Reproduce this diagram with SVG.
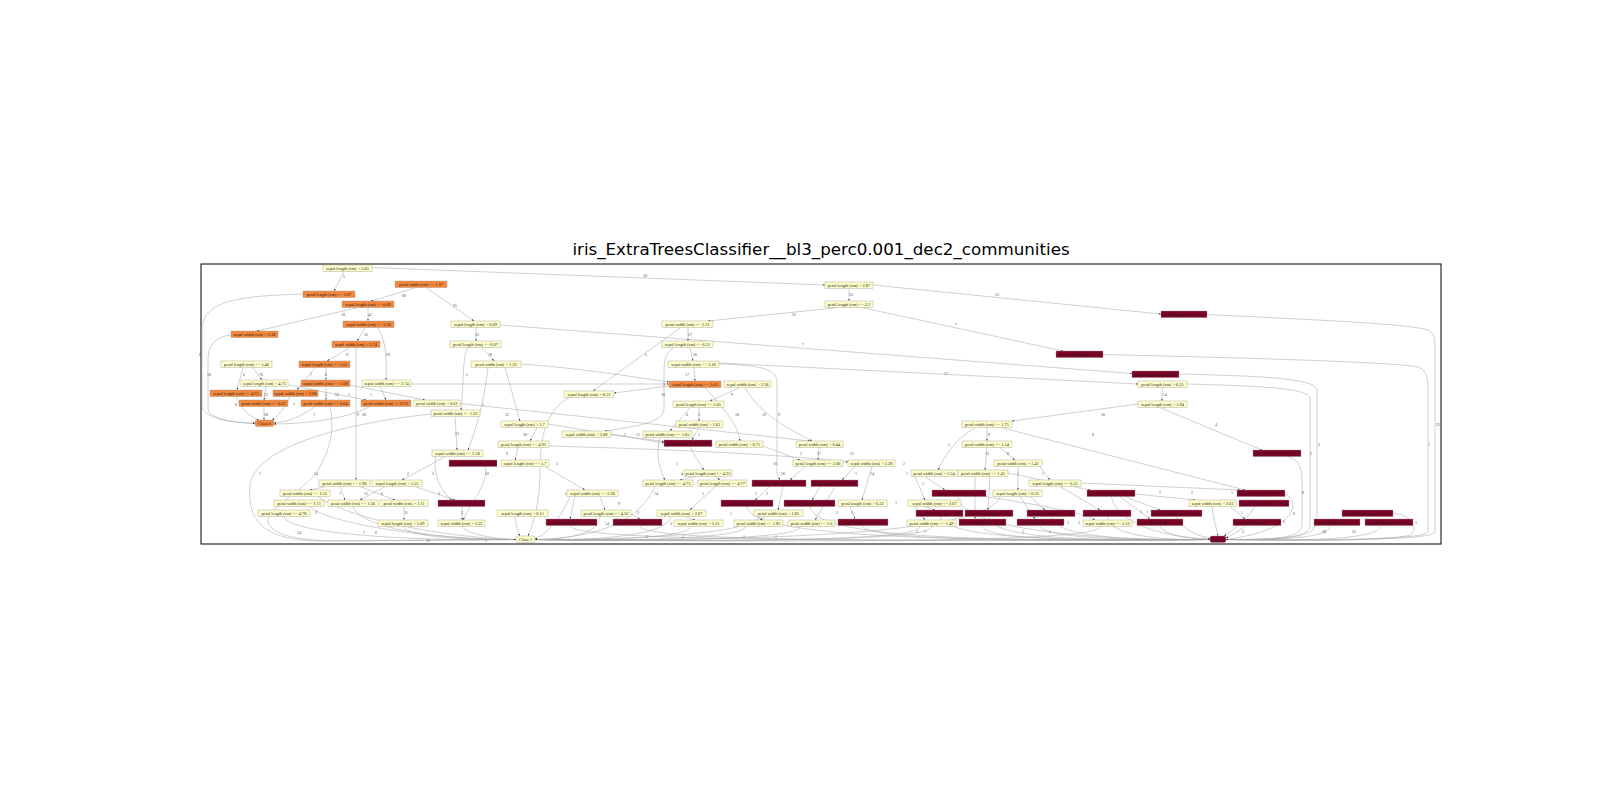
<svg xmlns="http://www.w3.org/2000/svg" width="1600" height="800" viewBox="0 0 1600 800">
<defs>
<marker id="a" viewBox="0 0 6 4" refX="6" refY="2" markerWidth="2.4" markerHeight="1.6" markerUnits="userSpaceOnUse" orient="auto"><path d="M0,0L6,2L0,4z" fill="#222"/></marker>
<style>
.e path{fill:none;stroke:#a8a8a8;stroke-width:0.55;marker-end:url(#a)}
.l text{font-family:"Liberation Serif",serif;font-size:3.8px;fill:#444;text-anchor:middle}
.y rect{fill:#ffffcc;stroke:#999;stroke-width:0.4}
.o rect{fill:#f5883b;stroke:#999;stroke-width:0.4}
.m rect{fill:#800026;stroke:#999;stroke-width:0.4}
g.y text,g.o text,g.m text{font-family:"Liberation Serif",serif;font-size:4.4px;fill:#222;text-anchor:middle}
</style>
</defs>
<rect width="1600" height="800" fill="#fff"/>
<text x="821" y="255" font-family="DejaVu Sans, sans-serif" font-size="16.7" text-anchor="middle" fill="#000">iris_ExtraTreesClassifier__bl3_perc0.001_dec2_communities</text>
<rect x="201" y="264" width="1240" height="280" fill="none" stroke="#000" stroke-width="1"/>
<g class="e" id="edges">
<path d="M344,271.6 L334,291"/>
<path d="M372,267.5 L825,285"/>
<path d="M415,288 L371,301"/>
<path d="M427,288 L474,321"/>
<path d="M303,294 C240,296 202,300 202,330 L202,405 C202,418 230,423 255,423"/>
<path d="M356,308 L257,331"/>
<path d="M368,308 L368,321"/>
<path d="M365,328 L357,341"/>
<path d="M378,328 C386,340 387,360 386,380"/>
<path d="M231,335 C214,337 208,346 208,360 L208,408 C208,419 235,423 255,423.5"/>
<path d="M350,347.6 L327,361"/>
<path d="M356,347.6 L356,480"/>
<path d="M476,328 L476,341"/>
<path d="M500,325 L1132,373.5"/>
<path d="M482,347.6 L494,361"/>
<path d="M468,347.6 C462,356 464,385 461,410"/>
<path d="M849,288.6 L849,301"/>
<path d="M873,285 L1161,314"/>
<path d="M838,307.6 L708,321"/>
<path d="M862,307.6 L1063,351"/>
<path d="M1207,314.5 C1320,320 1410,324 1428,330 C1435,333 1435,340 1435,350 L1435,532 C1435,540 1330,541 1226,539.5"/>
<path d="M1103,354.5 C1250,358 1395,362 1418,367 C1427,370 1428,378 1428,390 L1428,532 C1428,539 1330,540.5 1226,539.5"/>
<path d="M688,328 L688,341"/>
<path d="M680,328 L593,391"/>
<path d="M690,347.6 L693,361"/>
<path d="M674,347.6 C665,352 664,362 664,372 L664,408 C664,422 640,426 605,431"/>
<path d="M694,367.6 L695,381"/>
<path d="M719,364 C760,365 777,369 777,382 L777,472 C777,476 779,478 780,480"/>
<path d="M719,363 L1138,384"/>
<path d="M1179,374 C1260,376 1315,378 1317,390 L1317,520 C1317,535 1300,540 1226,539.5"/>
<path d="M1187,384 C1260,386 1308,388 1310,398 L1310,525 C1310,536 1290,540 1226,539.5"/>
<path d="M1162,387.6 L1162,401"/>
<path d="M1160,407.6 L1262,450"/>
<path d="M1138,404 L1012,421"/>
<path d="M1001,427.6 L1245,490"/>
<path d="M987,427.6 L987,441"/>
<path d="M975,427.6 C955,440 945,455 938,470"/>
<path d="M987,447.6 L985,470"/>
<path d="M1000,447.6 L1015,460"/>
<path d="M1288,456.6 C1300,460 1302,470 1302,480 L1302,525 C1302,537 1280,540 1226,539.5"/>
<path d="M243,367.6 L237,390"/>
<path d="M253,367.6 L262,380"/>
<path d="M315,367.6 L297,390"/>
<path d="M326,367.6 L326,380"/>
<path d="M266,386.6 L264,400"/>
<path d="M288,385 L366,400"/>
<path d="M326,386.6 L326,400"/>
<path d="M350,385 L425,400"/>
<path d="M380,386.6 L386,400"/>
<path d="M411,384 L669,384"/>
<path d="M236,396.6 C240,408 250,417 259,420"/>
<path d="M264,406.6 L264,420"/>
<path d="M290,396.6 C285,408 278,416 272,420"/>
<path d="M315,406.6 C300,418 285,422 274,423"/>
<path d="M370,406.6 C345,420 300,424 274,424"/>
<path d="M488,367.6 C485,395 478,425 468,450"/>
<path d="M505,367.6 L520,421"/>
<path d="M521,364 C580,368 640,378 669,382"/>
<path d="M455,416.6 L457,450"/>
<path d="M431,414 C330,425 255,450 250,485 C247,520 262,540 320,541 L516,539.5"/>
<path d="M330,406.6 C335,430 330,450 318,470 C300,495 270,505 268,520 C268,535 300,541 340,541 L516,539.5"/>
<path d="M460,403.5 L810,441"/>
<path d="M745,387.6 C755,405 770,420 812,441"/>
<path d="M537,427.6 L530,441"/>
<path d="M548,424 L664,443"/>
<path d="M611,434.5 L664,441.5"/>
<path d="M518,447.6 L515,460"/>
<path d="M549,446 C620,448 760,452 848,462"/>
<path d="M545,466.6 L585,490"/>
<path d="M445,456.6 L402,480"/>
<path d="M436,456.6 C432,470 440,492 452,500"/>
<path d="M485,466.6 C490,480 470,505 463,520"/>
<path d="M340,486.6 L345,500"/>
<path d="M360,486.6 L395,500"/>
<path d="M325,486.6 L310,490"/>
<path d="M385,486.6 L360,500"/>
<path d="M415,486.6 L455,500"/>
<path d="M404,506.6 L404,520"/>
<path d="M462,506.6 L462,520"/>
<path d="M284,516.6 C290,535 420,541 516,539.5"/>
<path d="M310,506.6 C330,525 440,540 516,539.5"/>
<path d="M353,506.6 C360,530 450,540 516,539.5"/>
<path d="M318,496.6 C350,520 450,538 516,539.5"/>
<path d="M403,526.6 C410,538 470,540 516,539.5"/>
<path d="M462,526.6 C470,536 500,539 516,539.5"/>
<path d="M515,516.6 C516,525 518,532 520,536"/>
<path d="M570,397 C545,410 540,440 540,470 C540,510 530,530 528,536"/>
<path d="M600,516.6 C600,535 560,540 535,539.5"/>
<path d="M670,516.6 C670,537 580,541 535,539.5"/>
<path d="M690,526.6 C690,539 580,541 535,539.5"/>
<path d="M745,526.6 C745,540 600,541 535,539.5"/>
<path d="M800,526.6 C800,541 620,541 535,539.5"/>
<path d="M920,526.6 C920,542 700,541 535,539.5"/>
<path d="M932,526.6 C932,542 700,542 535,539.5"/>
<path d="M1100,526.6 C1100,543 800,542 535,539.5"/>
<path d="M760,516.6 C750,535 620,540 535,539.5"/>
<path d="M655,486.6 C640,520 600,538 535,539.5"/>
<path d="M570,496.6 C560,520 545,535 535,539"/>
<path d="M1000,496.6 C990,530 800,542 535,539.5"/>
<path d="M570,526 C575,542 900,541 1210,539.5"/>
<path d="M640,526 C645,542 900,541 1210,539.5"/>
<path d="M747,506.6 C750,541 1000,541 1210,539.5"/>
<path d="M810,506.6 C815,540 1000,541 1210,539.5"/>
<path d="M863,526 C865,541 1050,541 1210,539.5"/>
<path d="M940,516.6 C945,541 1100,541 1210,539.5"/>
<path d="M989,516.6 C990,540 1100,541 1210,539.5"/>
<path d="M982,526 C985,541 1100,540 1210,539.5"/>
<path d="M1051,516.6 C1055,540 1150,540 1210,539.5"/>
<path d="M1040,526 C1045,540 1150,540 1210,539.5"/>
<path d="M1107,516.6 C1110,538 1170,540 1210,539.5"/>
<path d="M1160,526 C1165,536 1190,539 1210,539"/>
<path d="M1176,516.6 C1185,532 1200,537 1212,538"/>
<path d="M958,496.6 C960,530 1100,541 1210,539.5"/>
<path d="M1111,496.6 C1120,530 1180,538 1210,539"/>
<path d="M1212,506.6 C1214,522 1217,530 1218,536"/>
<path d="M1255,506.6 C1245,522 1230,532 1224,536"/>
<path d="M1285,494 C1300,500 1300,530 1226,539.5"/>
<path d="M1245,526 C1238,532 1230,536 1226,538"/>
<path d="M1330,526 C1330,538 1280,540 1226,539.5"/>
<path d="M1380,526 C1380,540 1300,541 1226,539.5"/>
<path d="M1393,513 C1415,516 1418,530 1410,535 C1390,541 1300,541 1226,539.5"/>
<path d="M690,407.6 C682,418 675,425 670,431"/>
<path d="M699,407.6 L699,421"/>
<path d="M740,387.6 L710,401"/>
<path d="M705,387.6 C725,410 738,425 740,441"/>
<path d="M669,386 L614,393"/>
<path d="M699,427.6 L692,440"/>
<path d="M690,446.6 C695,455 700,465 704,470"/>
<path d="M660,437.6 C655,455 660,470 665,480"/>
<path d="M763,446 L800,460"/>
<path d="M819,447.6 L818,460"/>
<path d="M695,476.6 L680,480"/>
<path d="M715,476.6 L720,480"/>
<path d="M805,466.6 L790,480"/>
<path d="M855,466.6 L842,480"/>
<path d="M872,466.6 L862,500"/>
<path d="M715,486.6 L690,510"/>
<path d="M770,486.6 L755,500"/>
<path d="M783,486.6 L778,510"/>
<path d="M820,487 L812,500"/>
<path d="M835,487 L815,520"/>
<path d="M600,496.6 L605,510"/>
<path d="M575,496.6 L570,519"/>
<path d="M631,514 L640,519"/>
<path d="M685,516.6 L695,520"/>
<path d="M765,516.6 L760,520"/>
<path d="M850,506.6 L855,519"/>
<path d="M925,506.6 L935,510"/>
<path d="M915,506.6 L925,520"/>
<path d="M925,476.6 L945,490"/>
<path d="M915,476.6 L925,500"/>
<path d="M990,476.6 L988,510"/>
<path d="M975,476.6 L975,519"/>
<path d="M1018,466.6 L1018,490"/>
<path d="M1040,466.6 L1050,480"/>
<path d="M1081,483 L1240,490"/>
<path d="M1060,486.6 L1100,510"/>
<path d="M1030,496.6 L1045,510"/>
<path d="M1020,496.6 L1035,519"/>
<path d="M1135,494 L1195,500"/>
<path d="M1125,496.6 L1160,510"/>
<path d="M985,496.6 C1040,505 1080,512 1095,520"/>
<path d="M1120,496.6 L1150,519"/>
<path d="M1230,506.6 L1245,519"/>
<path d="M1008,473 L1090,490"/>
</g>
<g class="l" id="edge-labels">
<text x="344" y="278">5</text><text x="645" y="277">58</text><text x="404" y="297">60</text><text x="455" y="307">25</text>
<text x="200" y="356">8</text><text x="343" y="316">18</text><text x="370" y="316">42</text><text x="366" y="336">33</text>
<text x="388" y="356">29</text><text x="209" y="376">18</text><text x="347" y="356">11</text><text x="358" y="416">9</text>
<text x="477" y="336">23</text><text x="803" y="346">7</text><text x="490" y="356">18</text><text x="467" y="376">5</text>
<text x="851" y="296">33</text><text x="997" y="296">23</text><text x="794" y="316">32</text><text x="956" y="326">7</text>
<text x="1438" y="426">25</text><text x="1429" y="446">1</text><text x="690" y="336">27</text><text x="646" y="356">5</text>
<text x="695" y="356">26</text><text x="664" y="386">3</text><text x="687" y="376">17</text><text x="779" y="416">9</text>
<text x="946" y="375">17</text><text x="1319" y="446">3</text><text x="1311" y="455">2</text><text x="1165" y="396">14</text>
<text x="1216" y="426">4</text><text x="1103" y="416">16</text><text x="1093" y="436">8</text><text x="989" y="436">9</text>
<text x="949" y="446">1</text><text x="987" y="455">13</text><text x="1008" y="455">8</text><text x="1303" y="494">8</text>
<text x="1294" y="515">6</text>
<text x="244" y="376">6</text><text x="261" y="376">76</text><text x="311" y="376">7</text><text x="326" y="376">6</text>
<text x="266" y="396">23</text><text x="337" y="396">53</text><text x="326" y="396">5</text><text x="349" y="396">1</text>
<text x="371" y="396">1</text><text x="236" y="406">8</text><text x="266" y="416">28</text><text x="294" y="406">7</text>
<text x="314" y="416">1</text><text x="364" y="416">30</text>
<text x="483" y="406">1</text><text x="507" y="416">32</text><text x="457" y="435">23</text><text x="260" y="475">1</text>
<text x="316" y="475">14</text><text x="764" y="416">19</text><text x="525" y="436">28</text><text x="638" y="436">12</text>
<text x="625" y="436">2</text><text x="507" y="455">9</text><text x="852" y="455">15</text><text x="557" y="465">5</text>
<text x="408" y="475">2</text><text x="433" y="475">5</text><text x="487" y="475">10</text><text x="340" y="495">7</text>
<text x="366" y="495">12</text><text x="382" y="495">6</text><text x="439" y="495">3</text><text x="406" y="514">11</text>
<text x="462" y="514">3</text>
<text x="299" y="534">14</text><text x="316" y="514">2</text><text x="364" y="534">7</text><text x="376" y="534">6</text>
<text x="428" y="542">11</text><text x="486" y="542">1</text>
<text x="732" y="396">9</text><text x="737" y="416">16</text><text x="663" y="396">30</text><text x="687" y="416">6</text>
<text x="699" y="416">3</text><text x="699" y="436">1</text><text x="677" y="465">1</text><text x="682" y="475">4</text>
<text x="801" y="455">2</text><text x="819" y="455">27</text><text x="775" y="465">10</text><text x="783" y="475">16</text>
<text x="805" y="485">3</text><text x="856" y="475">1</text><text x="872" y="475">14</text><text x="904" y="465">2</text>
<text x="907" y="475">1</text><text x="923" y="485">1</text><text x="1018" y="475">1</text><text x="1043" y="475">1</text>
<text x="656" y="495">14</text><text x="703" y="495">5</text><text x="756" y="495">2</text><text x="767" y="495">2</text>
<text x="566" y="495">1</text><text x="619" y="505">9</text><text x="638" y="514">2</text><text x="607" y="525">14</text>
<text x="671" y="525">5</text><text x="647" y="538">1</text><text x="683" y="538">1</text><text x="731" y="515">1</text>
<text x="744" y="538">1</text><text x="776" y="538">1</text><text x="837" y="514">2</text><text x="852" y="514">1</text>
<text x="896" y="504">1</text><text x="916" y="514">1</text><text x="917" y="533">1</text><text x="925" y="533">1</text>
<text x="1023" y="533">1</text><text x="1050" y="533">1</text><text x="1068" y="524">2</text><text x="1079" y="524">2</text>
<text x="1160" y="494">2</text><text x="1192" y="494">2</text><text x="1232" y="494">1</text><text x="1242" y="514">1</text>
<text x="1141" y="513">1</text><text x="1147" y="513">1</text><text x="1243" y="533">3</text><text x="1284" y="523">5</text>
<text x="1324" y="533">26</text><text x="1354" y="533">25</text><text x="1416" y="524">5</text>
</g>
<g id="n1" class="y"><rect x="323" y="265" width="49" height="6.6"/><text x="347.5" y="269.7">sepal length (cm) &gt; 5.65</text></g>
<g id="n2" class="o"><rect x="395" y="281" width="52" height="6.6"/><text x="421" y="285.7">petal width (cm) &lt;= 1.97</text></g>
<g id="n3" class="o"><rect x="303" y="291" width="52" height="6.6"/><text x="329" y="295.7">petal length (cm) &lt;= 2.87</text></g>
<g id="n4" class="o"><rect x="342" y="301" width="52" height="6.6"/><text x="368" y="305.7">sepal length (cm) &lt;= 6.09</text></g>
<g id="n5" class="o"><rect x="343" y="321" width="51" height="6.6"/><text x="368.5" y="325.7">sepal width (cm) &lt;= 3.36</text></g>
<g id="n6" class="o"><rect x="231" y="331" width="47" height="6.6"/><text x="254.5" y="335.7">sepal width (cm) &gt; 3.36</text></g>
<g id="n7" class="o"><rect x="332" y="341" width="48" height="6.6"/><text x="356" y="345.7">sepal width (cm) &gt; 2.74</text></g>
<g id="n8" class="y"><rect x="451" y="321" width="49" height="6.6"/><text x="475.5" y="325.7">sepal length (cm) &gt; 6.09</text></g>
<g id="n9" class="y"><rect x="450" y="341" width="51" height="6.6"/><text x="475.5" y="345.7">petal length (cm) &lt;= 6.07</text></g>
<g id="n10" class="y"><rect x="825" y="282" width="48" height="6.6"/><text x="849" y="286.7">petal length (cm) &gt; 2.87</text></g>
<g id="n11" class="y"><rect x="825" y="301" width="48" height="6.6"/><text x="849" y="305.7">petal length (cm) &lt;= 3.2</text></g>
<g id="n12" class="y"><rect x="662" y="321" width="51" height="6.6"/><text x="687.5" y="325.7">petal width (cm) &lt;= 2.12</text></g>
<g id="n13" class="y"><rect x="662" y="341" width="51" height="6.6"/><text x="687.5" y="345.7">sepal length (cm) &lt;= 6.51</text></g>
<g id="n14" class="m"><rect x="1056" y="351" width="47" height="6.6"/><text x="1079.5" y="355.7">petal width (cm) &gt; 2.12</text></g>
<g id="n15" class="m"><rect x="1161" y="311" width="46" height="6.6"/><text x="1184" y="315.7">petal length (cm) &gt; 3.2</text></g>
<g id="n16" class="y"><rect x="221" y="361" width="51" height="6.6"/><text x="246.5" y="365.7">petal length (cm) &lt;= 5.46</text></g>
<g id="n17" class="o"><rect x="299" y="361" width="51" height="6.6"/><text x="324.5" y="365.7">sepal length (cm) &lt;= 5.55</text></g>
<g id="n18" class="y"><rect x="471" y="361" width="50" height="6.6"/><text x="496" y="365.7">petal width (cm) &gt; 1.32</text></g>
<g id="n19" class="y"><rect x="241" y="380" width="47" height="6.6"/><text x="264.5" y="384.7">sepal length (cm) &gt; 4.75</text></g>
<g id="n20" class="o"><rect x="301" y="380" width="49" height="6.6"/><text x="325.5" y="384.7">sepal width (cm) &lt;= 3.08</text></g>
<g id="n21" class="y"><rect x="362" y="380" width="49" height="6.6"/><text x="386.5" y="384.7">sepal width (cm) &lt;= 2.74</text></g>
<g id="n22" class="o"><rect x="210" y="390" width="52" height="6.6"/><text x="236" y="394.7">sepal length (cm) &lt;= 4.75</text></g>
<g id="n23" class="o"><rect x="273" y="390" width="45" height="6.6"/><text x="295.5" y="394.7">sepal width (cm) &gt; 3.08</text></g>
<g id="n24" class="o"><rect x="239" y="400" width="49" height="6.6"/><text x="263.5" y="404.7">petal width (cm) &lt;= 0.65</text></g>
<g id="n25" class="o"><rect x="301" y="400" width="49" height="6.6"/><text x="325.5" y="404.7">petal width (cm) &lt;= 0.64</text></g>
<g id="n26" class="o"><rect x="361" y="400" width="50" height="6.6"/><text x="386" y="404.7">petal width (cm) &lt;= 0.75</text></g>
<g id="n27" class="y"><rect x="414" y="400" width="46" height="6.6"/><text x="437" y="404.7">petal width (cm) &gt; 0.61</text></g>
<g id="n28" class="y"><rect x="431" y="410" width="49" height="6.6"/><text x="455.5" y="414.7">petal width (cm) &lt;= 1.32</text></g>
<g id="c0" class="o"><rect x="255" y="420" width="19" height="6.6" rx="2"/><text x="264.5" y="424.7">Class 0</text></g>
<g id="n29" class="y"><rect x="501" y="421" width="47" height="6.6"/><text x="524.5" y="425.7">sepal length (cm) &gt; 5.7</text></g>
<g id="n30" class="y"><rect x="498" y="441" width="51" height="6.6"/><text x="523.5" y="445.7">petal length (cm) &lt;= 4.93</text></g>
<g id="n31" class="y"><rect x="432" y="450" width="51" height="6.6"/><text x="457.5" y="454.7">sepal width (cm) &lt;= 2.58</text></g>
<g id="n32" class="y"><rect x="668" y="361" width="51" height="6.6"/><text x="693.5" y="365.7">sepal width (cm) &lt;= 3.16</text></g>
<g id="n33" class="o"><rect x="669" y="381" width="52" height="6.6"/><text x="695" y="385.7">sepal length (cm) &lt;= 5.65</text></g>
<g id="n34" class="y"><rect x="724" y="381" width="47" height="6.6"/><text x="747.5" y="385.7">sepal width (cm) &gt; 2.58</text></g>
<g id="n35" class="y"><rect x="564" y="391" width="50" height="6.6"/><text x="589" y="395.7">sepal length (cm) &gt; 6.51</text></g>
<g id="n36" class="y"><rect x="673" y="401" width="51" height="6.6"/><text x="698.5" y="405.7">petal length (cm) &lt;= 5.05</text></g>
<g id="n37" class="y"><rect x="676" y="421" width="47" height="6.6"/><text x="699.5" y="425.7">petal width (cm) &gt; 1.65</text></g>
<g id="n38" class="y"><rect x="562" y="431" width="49" height="6.6"/><text x="586.5" y="435.7">sepal width (cm) &gt; 3.08</text></g>
<g id="n39" class="y"><rect x="643" y="431" width="49" height="6.6"/><text x="667.5" y="435.7">petal width (cm) &lt;= 1.65</text></g>
<g id="n40" class="m"><rect x="664" y="440" width="48" height="6.6"/><text x="688" y="444.7">petal length (cm) &gt; 4.93</text></g>
<g id="n41" class="y"><rect x="716" y="441" width="47" height="6.6"/><text x="739.5" y="445.7">petal width (cm) &gt; 0.75</text></g>
<g id="n42" class="y"><rect x="796" y="441" width="47" height="6.6"/><text x="819.5" y="445.7">petal width (cm) &gt; 0.44</text></g>
<g id="n43" class="y"><rect x="962" y="421" width="50" height="6.6"/><text x="987" y="425.7">petal width (cm) &lt;= 1.75</text></g>
<g id="n44" class="y"><rect x="962" y="441" width="50" height="6.6"/><text x="987" y="445.7">petal width (cm) &lt;= 1.54</text></g>
<g id="n45" class="m"><rect x="1132" y="371" width="47" height="6.6"/><text x="1155.5" y="375.7">petal length (cm) &gt; 6.07</text></g>
<g id="n46" class="y"><rect x="1138" y="381" width="49" height="6.6"/><text x="1162.5" y="385.7">petal length (cm) &gt; 6.25</text></g>
<g id="n47" class="y"><rect x="1138" y="401" width="49" height="6.6"/><text x="1162.5" y="405.7">sepal length (cm) &gt; 5.94</text></g>
<g id="n48" class="m"><rect x="1253" y="450" width="48" height="6.6"/><text x="1277" y="454.7">petal width (cm) &gt; 1.75</text></g>
<g id="n49" class="m"><rect x="449" y="460" width="48" height="6.6"/><text x="473" y="464.7">petal length (cm) &gt; 4.78</text></g>
<g id="n50" class="y"><rect x="501" y="460" width="48" height="6.6"/><text x="525" y="464.7">sepal length (cm) &lt;= 5.7</text></g>
<g id="n51" class="y"><rect x="319" y="480" width="51" height="6.6"/><text x="344.5" y="484.7">petal width (cm) &lt;= 1.98</text></g>
<g id="n52" class="y"><rect x="372" y="480" width="50" height="6.6"/><text x="397" y="484.7">sepal length (cm) &gt; 5.55</text></g>
<g id="n53" class="y"><rect x="280" y="490" width="50" height="6.6"/><text x="305" y="494.7">petal width (cm) &lt;= 1.51</text></g>
<g id="n54" class="y"><rect x="274" y="500" width="50" height="6.6"/><text x="299" y="504.7">petal width (cm) &lt;= 1.11</text></g>
<g id="n55" class="y"><rect x="328" y="500" width="50" height="6.6"/><text x="353" y="504.7">petal width (cm) &lt;= 1.56</text></g>
<g id="n56" class="y"><rect x="380" y="500" width="48" height="6.6"/><text x="404" y="504.7">petal width (cm) &gt; 1.11</text></g>
<g id="n57" class="m"><rect x="438" y="500" width="47" height="6.6"/><text x="461.5" y="504.7">petal width (cm) &gt; 1.56</text></g>
<g id="n58" class="y"><rect x="258" y="510" width="52" height="6.6"/><text x="284" y="514.7">petal length (cm) &lt;= 4.78</text></g>
<g id="n59" class="y"><rect x="378" y="520" width="50" height="6.6"/><text x="403" y="524.7">sepal length (cm) &gt; 5.09</text></g>
<g id="n60" class="y"><rect x="438" y="520" width="47" height="6.6"/><text x="461.5" y="524.7">sepal width (cm) &gt; 3.32</text></g>
<g id="n61" class="y"><rect x="793" y="460" width="50" height="6.6"/><text x="818" y="464.7">petal length (cm) &lt;= 5.06</text></g>
<g id="n62" class="y"><rect x="848" y="460" width="47" height="6.6"/><text x="871.5" y="464.7">sepal width (cm) &gt; 2.28</text></g>
<g id="n63" class="y"><rect x="994" y="460" width="48" height="6.6"/><text x="1018" y="464.7">petal width (cm) &gt; 1.41</text></g>
<g id="n64" class="y"><rect x="684" y="470" width="48" height="6.6"/><text x="708" y="474.7">petal length (cm) &lt;= 4.25</text></g>
<g id="n65" class="y"><rect x="911" y="470" width="46" height="6.6"/><text x="934" y="474.7">petal width (cm) &gt; 1.54</text></g>
<g id="n66" class="y"><rect x="958" y="470" width="50" height="6.6"/><text x="983" y="474.7">petal width (cm) &lt;= 1.41</text></g>
<g id="n67" class="y"><rect x="643" y="480" width="50" height="6.6"/><text x="668" y="484.7">petal length (cm) &lt;= 4.75</text></g>
<g id="n68" class="y"><rect x="698" y="480" width="49" height="6.6"/><text x="722.5" y="484.7">petal length (cm) &lt;= 4.77</text></g>
<g id="n69" class="m"><rect x="752" y="480" width="54" height="6.6"/><text x="779" y="484.7">petal width (cm) &gt; 1.52</text></g>
<g id="n70" class="m"><rect x="811" y="480" width="47" height="6.6"/><text x="834.5" y="484.7">petal length (cm) &gt; 5.06</text></g>
<g id="n71" class="y"><rect x="1029" y="480" width="52" height="6.6"/><text x="1055" y="484.7">sepal length (cm) &lt;= 6.35</text></g>
<g id="n72" class="y"><rect x="567" y="490" width="51" height="6.6"/><text x="592.5" y="494.7">sepal width (cm) &lt;= 2.28</text></g>
<g id="n73" class="m"><rect x="932" y="490" width="54" height="6.6"/><text x="959" y="494.7">petal length (cm) &gt; 4.77</text></g>
<g id="n74" class="y"><rect x="993" y="490" width="49" height="6.6"/><text x="1017.5" y="494.7">sepal length (cm) &gt; 6.35</text></g>
<g id="n75" class="m"><rect x="1087" y="490" width="48" height="6.6"/><text x="1111" y="494.7">petal length (cm) &gt; 4.75</text></g>
<g id="n76" class="m"><rect x="1237" y="490" width="48" height="6.6"/><text x="1261" y="494.7">petal length (cm) &gt; 5.61</text></g>
<g id="n77" class="y"><rect x="497" y="510" width="51" height="6.6"/><text x="522.5" y="514.7">sepal length (cm) &gt; 6.11</text></g>
<g id="n78" class="m"><rect x="721" y="500" width="52" height="6.6"/><text x="747" y="504.7">sepal length (cm) &gt; 6.12</text></g>
<g id="n79" class="m"><rect x="784" y="500" width="51" height="6.6"/><text x="809.5" y="504.7">petal length (cm) &gt; 4.78</text></g>
<g id="n80" class="y"><rect x="838" y="500" width="49" height="6.6"/><text x="862.5" y="504.7">petal length (cm) &gt; 6.32</text></g>
<g id="n81" class="y"><rect x="908" y="500" width="53" height="6.6"/><text x="934.5" y="504.7">sepal width (cm) &lt;= 2.67</text></g>
<g id="n82" class="y"><rect x="1189" y="500" width="47" height="6.6"/><text x="1212.5" y="504.7">sepal width (cm) &gt; 2.61</text></g>
<g id="n83" class="m"><rect x="1239" y="500" width="50" height="6.6"/><text x="1264" y="504.7">sepal width (cm) &lt;= 2.61</text></g>
<g id="n84" class="y"><rect x="581" y="510" width="50" height="6.6"/><text x="606" y="514.7">petal length (cm) &lt;= 4.32</text></g>
<g id="n85" class="y"><rect x="657" y="510" width="49" height="6.6"/><text x="681.5" y="514.7">sepal width (cm) &gt; 2.67</text></g>
<g id="n86" class="y"><rect x="754" y="510" width="49" height="6.6"/><text x="778.5" y="514.7">petal width (cm) &gt; 1.85</text></g>
<g id="n87" class="m"><rect x="916" y="510" width="47" height="6.6"/><text x="939.5" y="514.7">petal width (cm) &gt; 1.80</text></g>
<g id="n88" class="m"><rect x="965" y="510" width="48" height="6.6"/><text x="989" y="514.7">sepal length (cm) &gt; 6.35</text></g>
<g id="n89" class="m"><rect x="1027" y="510" width="48" height="6.6"/><text x="1051" y="514.7">petal width (cm) &gt; 1.78</text></g>
<g id="n90" class="m"><rect x="1083" y="510" width="48" height="6.6"/><text x="1107" y="514.7">petal width (cm) &gt; 1.62</text></g>
<g id="n91" class="m"><rect x="1151" y="510" width="51" height="6.6"/><text x="1176.5" y="514.7">sepal length (cm) &lt;= 6.15</text></g>
<g id="n92" class="m"><rect x="1342" y="510" width="51" height="6.6"/><text x="1367.5" y="514.7">petal length (cm) &gt; 5.96</text></g>
<g id="n93" class="m"><rect x="546" y="519" width="51" height="6.6"/><text x="571.5" y="523.7">sepal length (cm) &lt;= 5.02</text></g>
<g id="n94" class="m"><rect x="613" y="519" width="49" height="6.6"/><text x="637.5" y="523.7">sepal width (cm) &lt;= 3.11</text></g>
<g id="n95" class="y"><rect x="674" y="520" width="49" height="6.6"/><text x="698.5" y="524.7">sepal width (cm) &gt; 3.15</text></g>
<g id="n96" class="y"><rect x="734" y="520" width="49" height="6.6"/><text x="758.5" y="524.7">petal width (cm) &lt;= 1.85</text></g>
<g id="n97" class="y"><rect x="788" y="520" width="47" height="6.6"/><text x="811.5" y="524.7">petal width (cm) &lt;= 1.6</text></g>
<g id="n98" class="m"><rect x="838" y="519" width="50" height="6.6"/><text x="863" y="523.7">sepal width (cm) &lt;= 3.12</text></g>
<g id="n99" class="y"><rect x="907" y="520" width="49" height="6.6"/><text x="931.5" y="524.7">petal width (cm) &lt;= 1.49</text></g>
<g id="n100" class="m"><rect x="959" y="519" width="47" height="6.6"/><text x="982.5" y="523.7">petal width (cm) &gt; 1.49</text></g>
<g id="n101" class="m"><rect x="1017" y="519" width="47" height="6.6"/><text x="1040.5" y="523.7">petal width (cm) &lt;= 1.8</text></g>
<g id="n102" class="y"><rect x="1083" y="520" width="49" height="6.6"/><text x="1107.5" y="524.7">sepal width (cm) &lt;= 2.52</text></g>
<g id="n103" class="m"><rect x="1137" y="519" width="46" height="6.6"/><text x="1160" y="523.7">petal width (cm) &lt;= 1.52</text></g>
<g id="n104" class="m"><rect x="1233" y="519" width="48" height="6.6"/><text x="1257" y="523.7">petal width (cm) &lt;= 1.52</text></g>
<g id="n105" class="m"><rect x="1314" y="519" width="46" height="6.6"/><text x="1337" y="523.7">petal width (cm) &gt; 1.47</text></g>
<g id="n106" class="m"><rect x="1365" y="519" width="48" height="6.6"/><text x="1389" y="523.7">petal length (cm) &gt; 5.06</text></g>
<g id="c1" class="y"><rect x="516" y="536" width="19" height="6.6" rx="2"/><text x="525.5" y="540.7">Class 1</text></g>
<g id="c2" class="m"><rect x="1210" y="536" width="16" height="6.6" rx="2"/><text x="1218" y="540.7">Class 2</text></g>
</svg>
